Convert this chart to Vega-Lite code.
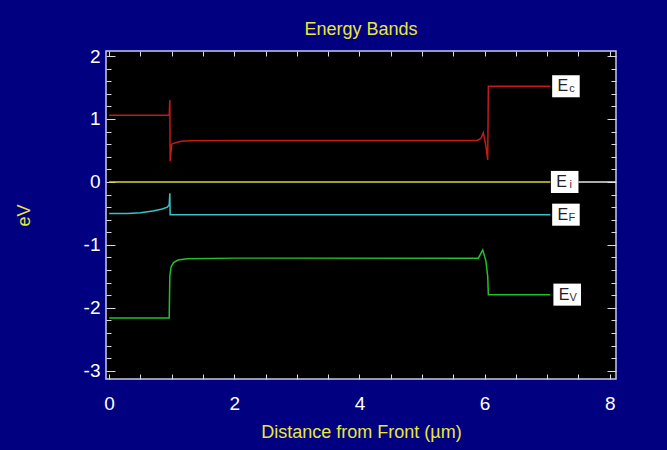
{
  "$schema": "https://vega.github.io/schema/vega-lite/v6.json",
  "autosize": {"type": "none"},
  "width": 510,
  "height": 328,
  "padding": {"left": 106, "top": 51, "right": 51, "bottom": 71},
  "background": "#000080",
  "title": {
    "text": "Energy Bands",
    "color": "#e8e83c",
    "font": "Liberation Sans, Arial, sans-serif",
    "fontSize": 18,
    "fontWeight": "normal",
    "offset": 8
  },
  "config": {
    "view": {"fill": "#000000", "stroke": "#c8c8f0", "strokeWidth": 1.5},
    "axis": {
      "domain": false,
      "grid": false,
      "labelColor": "#ffffff",
      "labelFont": "Liberation Sans, Arial, sans-serif",
      "labelFontSize": 19,
      "titleColor": "#e8e83c",
      "titleFont": "Liberation Sans, Arial, sans-serif",
      "titleFontSize": 18,
      "titleFontWeight": "normal",
      "tickColor": "#d8d8e8",
      "tickWidth": 1
    }
  },
  "datasets": {
    "bands": [
      {"band": "Ec", "i": 1, "x": 0, "y": 1.06},
      {"band": "Ec", "i": 2, "x": 0.96, "y": 1.06},
      {"band": "Ec", "i": 3, "x": 0.97, "y": 1.3},
      {"band": "Ec", "i": 4, "x": 0.975, "y": 0.33},
      {"band": "Ec", "i": 5, "x": 1.0, "y": 0.6},
      {"band": "Ec", "i": 6, "x": 1.05, "y": 0.62},
      {"band": "Ec", "i": 7, "x": 1.15, "y": 0.645},
      {"band": "Ec", "i": 8, "x": 1.3, "y": 0.655},
      {"band": "Ec", "i": 9, "x": 2.0, "y": 0.66},
      {"band": "Ec", "i": 10, "x": 5.88, "y": 0.66},
      {"band": "Ec", "i": 11, "x": 5.94, "y": 0.69},
      {"band": "Ec", "i": 12, "x": 5.98, "y": 0.78},
      {"band": "Ec", "i": 13, "x": 6.02, "y": 0.58},
      {"band": "Ec", "i": 14, "x": 6.05, "y": 0.35},
      {"band": "Ec", "i": 15, "x": 6.06, "y": 1.52},
      {"band": "Ec", "i": 16, "x": 7.05, "y": 1.52},
      {"band": "Ei", "i": 1, "x": 0, "y": 0},
      {"band": "Ei", "i": 2, "x": 7.05, "y": 0},
      {"band": "tail", "i": 1, "x": 7.5, "y": 0},
      {"band": "tail", "i": 2, "x": 8.1, "y": 0},
      {"band": "Ef", "i": 1, "x": 0, "y": -0.5},
      {"band": "Ef", "i": 2, "x": 0.3, "y": -0.5},
      {"band": "Ef", "i": 3, "x": 0.5, "y": -0.49},
      {"band": "Ef", "i": 4, "x": 0.7, "y": -0.46},
      {"band": "Ef", "i": 5, "x": 0.85, "y": -0.43},
      {"band": "Ef", "i": 6, "x": 0.93, "y": -0.4},
      {"band": "Ef", "i": 7, "x": 0.96, "y": -0.36},
      {"band": "Ef", "i": 8, "x": 0.97, "y": -0.18},
      {"band": "Ef", "i": 9, "x": 0.975, "y": -0.52},
      {"band": "Ef", "i": 10, "x": 7.05, "y": -0.52},
      {"band": "Ev", "i": 1, "x": 0, "y": -2.16},
      {"band": "Ev", "i": 2, "x": 0.96, "y": -2.16},
      {"band": "Ev", "i": 3, "x": 0.97, "y": -1.5},
      {"band": "Ev", "i": 4, "x": 0.99, "y": -1.35},
      {"band": "Ev", "i": 5, "x": 1.03, "y": -1.28},
      {"band": "Ev", "i": 6, "x": 1.1, "y": -1.24},
      {"band": "Ev", "i": 7, "x": 1.25, "y": -1.22},
      {"band": "Ev", "i": 8, "x": 2.0, "y": -1.21},
      {"band": "Ev", "i": 9, "x": 5.9, "y": -1.21},
      {"band": "Ev", "i": 10, "x": 5.97, "y": -1.08},
      {"band": "Ev", "i": 11, "x": 6.02, "y": -1.25},
      {"band": "Ev", "i": 12, "x": 6.05, "y": -1.5},
      {"band": "Ev", "i": 13, "x": 6.06, "y": -1.79},
      {"band": "Ev", "i": 14, "x": 7.05, "y": -1.79}
    ],
    "labels": [
      {"band": "Ec", "sub": "c", "x": 7.3, "y": 1.52},
      {"band": "Ei", "sub": "i", "x": 7.28, "y": 0},
      {"band": "Ef", "sub": "F", "x": 7.3, "y": -0.52},
      {"band": "Ev", "sub": "V", "x": 7.32, "y": -1.79}
    ]
  },
  "resolve": {"axis": {"x": "independent", "y": "independent"}},
  "layer": [
    {
      "data": {"name": "bands"},
      "mark": {"type": "line", "strokeWidth": 1.5, "interpolate": "linear"},
      "encoding": {
        "x": {
          "field": "x", "type": "quantitative",
          "scale": {"domain": [-0.05, 8.1], "nice": false, "zero": false},
          "axis": {
            "orient": "bottom", "values": [0, 2, 4, 6, 8], "ticks": false,
            "labelExpr": "toString(datum.value)",
            "labelPadding": 15, "title": "Distance from Front (µm)", "titlePadding": 10
          }
        },
        "y": {
          "field": "y", "type": "quantitative",
          "scale": {"domain": [-3.13, 2.08], "nice": false, "zero": false},
          "axis": {
            "orient": "left", "values": [-3, -2, -1, 0, 1, 2], "ticks": false,
            "labelExpr": "toString(datum.value)",
            "labelPadding": 6, "title": "eV", "titlePadding": 50
          }
        },
        "color": {
          "field": "band", "type": "nominal", "legend": null,
          "scale": {
            "domain": ["Ec", "Ei", "Ef", "Ev", "tail"],
            "range": ["#c41a1a", "#d8d82a", "#36c4c8", "#22c02e", "#e6e6e6"]
          }
        },
        "detail": {"field": "band"},
        "order": {"field": "i", "type": "quantitative"}
      }
    },
    {
      "data": {"name": "labels"},
      "mark": {
        "type": "point", "shape": "M-1,-0.8H1V0.8H-1Z", "size": 760,
        "filled": true, "fill": "#ffffff", "opacity": 1, "strokeWidth": 0
      },
      "encoding": {
        "x": {
          "field": "x", "type": "quantitative",
          "axis": {
            "orient": "bottom", "labels": false, "title": null,
            "values": [0, 0.5, 1, 1.5, 2, 2.5, 3, 3.5, 4, 4.5, 5, 5.5, 6, 6.5, 7, 7.5, 8],
            "tickSize": -5
          }
        },
        "y": {
          "field": "y", "type": "quantitative",
          "axis": {
            "orient": "left", "labels": false, "title": null,
            "values": [-3, -2.8, -2.6, -2.4, -2.2, -2, -1.8, -1.6, -1.4, -1.2, -1, -0.8, -0.6, -0.4, -0.2, 0, 0.2, 0.4, 0.6, 0.8, 1, 1.2, 1.4, 1.6, 1.8, 2],
            "tickSize": {"condition": {"test": "abs(datum.value - round(datum.value)) < 0.01", "value": -9}, "value": -5}
          }
        }
      }
    },
    {
      "data": {"name": "labels"},
      "mark": {
        "type": "text", "font": "Liberation Sans, Arial, sans-serif",
        "fontSize": 16, "color": "#202020", "align": "center", "baseline": "middle", "dx": -3
      },
      "encoding": {
        "x": {
          "field": "x", "type": "quantitative",
          "axis": {
            "orient": "top", "labels": false, "title": null,
            "values": [0, 0.5, 1, 1.5, 2, 2.5, 3, 3.5, 4, 4.5, 5, 5.5, 6, 6.5, 7, 7.5, 8],
            "tickSize": -5
          }
        },
        "y": {
          "field": "y", "type": "quantitative",
          "axis": {
            "orient": "right", "labels": false, "title": null,
            "values": [-3, -2.8, -2.6, -2.4, -2.2, -2, -1.8, -1.6, -1.4, -1.2, -1, -0.8, -0.6, -0.4, -0.2, 0, 0.2, 0.4, 0.6, 0.8, 1, 1.2, 1.4, 1.6, 1.8, 2],
            "tickSize": {"condition": {"test": "abs(datum.value - round(datum.value)) < 0.01", "value": -9}, "value": -5}
          }
        },
        "text": {"value": "E"}
      }
    },
    {
      "data": {"name": "labels"},
      "mark": {
        "type": "text", "font": "Liberation Sans, Arial, sans-serif",
        "fontSize": 11, "color": "#303030", "align": "center", "baseline": "middle", "dx": 6, "dy": 3
      },
      "encoding": {
        "x": {"field": "x", "type": "quantitative", "axis": null},
        "y": {"field": "y", "type": "quantitative", "axis": null},
        "text": {"field": "sub"}
      }
    }
  ]
}
